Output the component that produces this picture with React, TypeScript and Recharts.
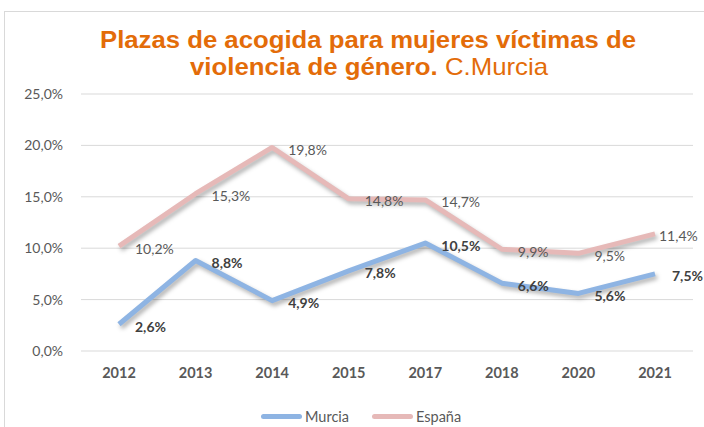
import React from "react";
import { LineChart, Line, XAxis, YAxis, CartesianGrid, LabelList } from "recharts";

const years = ["2012", "2013", "2014", "2015", "2017", "2018", "2020", "2021"];
const murcia = [2.6, 8.8, 4.9, 7.8, 10.5, 6.6, 5.6, 7.5];
const espana = [10.2, 15.3, 19.8, 14.8, 14.7, 9.9, 9.5, 11.4];
const yTicks = [0, 5, 10, 15, 20, 25];
const seriesNames = ["Murcia", "España"];
const seriesColors = ["#8EB4E3", "#E6B9B8"];

const data = years.map((y, i) => ({ year: y, murcia: murcia[i], espana: espana[i] }));

const fmt = (v: number) => v.toFixed(1).replace(".", ",") + "%";
const FONT = "Lato, 'Open Sans', sans-serif";

const makeLabel = (bold: boolean, color: string, lastDx: number) => (props: any) => {
  const { x, y, value, index } = props;
  const dx = index === years.length - 1 ? lastDx : 16;
  return (
    <text
      x={x + dx}
      y={y + 2}
      dominantBaseline="central"
      textAnchor="start"
      fontFamily={FONT}
      fontSize={14}
      fontWeight={bold ? 700 : 400}
      fill={color}
    >
      {fmt(value)}
    </text>
  );
};

export default function App() {
  return (
    <div style={{ position: "absolute", left: 0, top: 0, width: 704, height: 427, overflow: "hidden", background: "#fff" }}>
      <style>{`.shadowline .recharts-line-curve{filter:drop-shadow(2px 3px 2px rgba(0,0,0,0.3));}`}</style>
      <div style={{ position: "absolute", left: 4, top: 11, width: 800, height: 500, borderTop: "1px solid #d9d9d9", borderLeft: "1px solid #d9d9d9" }} />
      <LineChart
        width={704}
        height={427}
        data={data}
        margin={{ top: 94, right: 11, left: 21, bottom: 46 }}
        style={{ position: "absolute", left: 0, top: 0 }}
      >
        <CartesianGrid vertical={false} stroke="#d9d9d9" strokeWidth={1} />
        <XAxis
          dataKey="year"
          axisLine={false}
          tickLine={false}
          tickSize={0}
          tickMargin={17}
          height={30}
          padding={{ left: 38, right: 38 }}
          tick={{ fontFamily: FONT, fontSize: 14.5, fontWeight: 700, fill: "#595959" }}
          interval={0}
        />
        <YAxis
          domain={[0, 25]}
          ticks={yTicks}
          tickFormatter={fmt}
          axisLine={false}
          tickLine={false}
          tickSize={0}
          tickMargin={18}
          width={60}
          tick={{ fontFamily: FONT, fontSize: 14, fill: "#595959" }}
        />
        <Line
          dataKey="murcia"
          name={seriesNames[0]}
          stroke={seriesColors[0]}
          strokeWidth={5}
          dot={false}
          isAnimationActive={false}
          className="shadowline"
          strokeLinejoin="round"
        >
          <LabelList dataKey="murcia" content={makeLabel(true, "#404040", 17)} />
        </Line>
        <Line
          dataKey="espana"
          name={seriesNames[1]}
          stroke={seriesColors[1]}
          strokeWidth={5}
          dot={false}
          isAnimationActive={false}
          className="shadowline"
          strokeLinejoin="round"
        >
          <LabelList dataKey="espana" content={makeLabel(false, "#595959", 4)} />
        </Line>
      </LineChart>
      <svg width={704} height={90} style={{ position: "absolute", left: 0, top: 0, pointerEvents: "none" }}>
        <text x={100} y={48} textLength={536} lengthAdjust="spacingAndGlyphs" fontFamily="'Liberation Sans', Arial, sans-serif" fontSize={24} fontWeight={700} fill="#E36C09">
          Plazas de acogida para mujeres víctimas de
        </text>
        <text x={190} y={75} textLength={358} lengthAdjust="spacingAndGlyphs" fontFamily="'Liberation Sans', Arial, sans-serif" fontSize={24} fill="#E36C09">
          <tspan fontWeight={700}>violencia de género.</tspan>
          <tspan fontWeight={400}> C.Murcia</tspan>
        </text>
      </svg>
      <div style={{ position: "absolute", top: 406, left: 0, width: 704, height: 20 }}>
        {seriesNames.map((n, i) => (
          <div key={n} style={{ position: "absolute", left: i === 0 ? 261 : 372, top: 0, height: 20, display: "flex", alignItems: "center" }}>
            <div style={{ width: 41, height: 5, borderRadius: 3, background: seriesColors[i], marginRight: 3 }} />
            <span style={{ fontFamily: FONT, fontSize: 14.5, color: "#595959" }}>{n}</span>
          </div>
        ))}
      </div>
    </div>
  );
}
